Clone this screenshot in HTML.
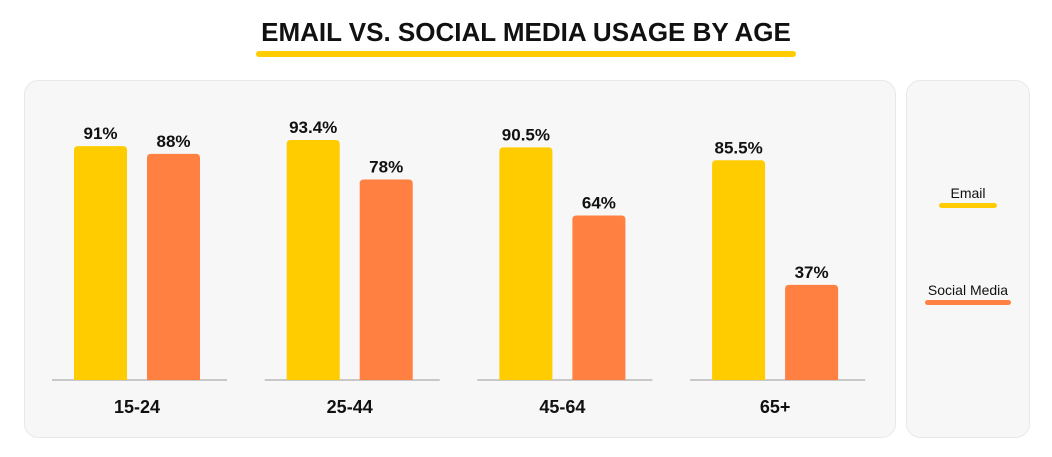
<!DOCTYPE html>
<html><head><meta charset="utf-8"><style>
body{margin:0;width:1052px;height:457px;background:#fff;overflow:hidden;font-family:"Liberation Sans",sans-serif}
svg{display:block}
</style></head><body>
<svg id="c" width="1052" height="457">
<text x="526" y="41" text-anchor="middle" font-size="26" font-weight="bold" fill="#111">EMAIL VS. SOCIAL MEDIA USAGE BY AGE</text>
<rect x="256" y="51" width="540" height="6" rx="3" fill="#ffcc00"/>
<rect x="24.5" y="80.5" width="871" height="357" rx="14" fill="#f7f7f7" stroke="#e8e8e8"/>
<rect x="906.5" y="80.5" width="123" height="357" rx="14" fill="#f7f7f7" stroke="#e8e8e8"/>
<g>
<text x="968" y="198" text-anchor="middle" font-size="14" fill="#111">Email</text>
<rect x="939" y="203" width="58" height="5" rx="2.5" fill="#ffcc00"/>
</g>
<g>
<text x="968" y="295" text-anchor="middle" font-size="14" fill="#111">Social Media</text>
<rect x="925" y="300" width="86" height="5" rx="2.5" fill="#ff8040"/>
</g>
<g id="marks"></g>
</svg>
<script>
const categories=["15-24","25-44","45-64","65+"];
const emailValues=[91,93.4,90.5,85.5];
const socialValues=[88,78,64,37];
const emailLabels=["91%","93.4%","90.5%","85.5%"];
const socialLabels=["88%","78%","64%","37%"];
const NS="http://www.w3.org/2000/svg";
const g=document.getElementById('marks');
const base=380, pxPer=2.57;
function y(v){return base-v*pxPer;}
function gx(i){return 74+i*212.7;}
function mk(t,a){const e=document.createElementNS(NS,t);for(const k in a)e.setAttribute(k,a[k]);g.appendChild(e);return e;}
categories.forEach((c,i)=>{
  const x0=gx(i);
  const line=mk('rect',{x:x0-22,y:base-1,width:175,height:2,fill:'#c8c8c8'});
  
  
  [[emailValues,emailLabels,'#ffcc00',0,'email'],[socialValues,socialLabels,'#ff8040',73,'social']].forEach(s=>{
    const v=s[0][i], bx=x0+s[3];
    const r=mk('path',{d:`M${bx},${base} V${y(v)+4} q0,-4 4,-4 h45 q4,0 4,4 V${base} Z`,fill:s[2]});
    
    
    const t=mk('text',{x:bx+26.5,y:y(v)-7,'text-anchor':'middle','font-size':17,'font-weight':'bold',fill:'#111'});
    t.textContent=s[1][i];
    
    
  });
  const ct=mk('text',{x:x0+63,y:413,'text-anchor':'middle','font-size':18,'font-weight':'bold',fill:'#111'});
  ct.textContent=c;
  
  
});
</script>
</body></html>
